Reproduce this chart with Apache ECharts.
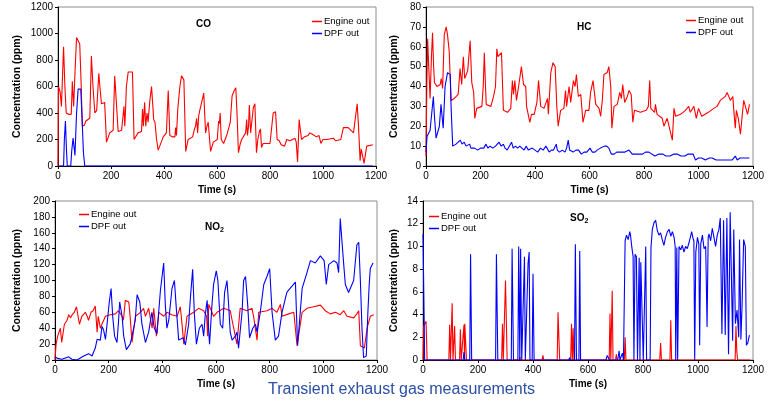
<!DOCTYPE html>
<html><head><meta charset="utf-8">
<script src="https://cdn.jsdelivr.net/npm/echarts@6/dist/echarts.min.js"></script>
<style>html,body{margin:0;padding:0;background:#fff}#c{width:768px;height:403px}</style>
</head><body><div id="c"></div>
<script>
const timeTicks = [0, 200, 400, 600, 800, 1000, 1200];
const panelTitles = ['CO', 'HC', 'NO{s|2}', 'SO{s|2}'];
const seriesNames = ['Engine out', 'DPF out'];
const yMax = [1200, 80, 200, 14];
const yStep = [200, 10, 20, 2];

const coEngine = [[0,0],[2,600],[8,560],[13,450],[21,900],[26,600],[31,400],[40,390],[50,390],[54,640],[59,450],[64,700],[70,970],[76,970],[82,920],[86,700],[92,300],[100,310],[105,340],[120,360],[126,830],[132,600],[139,400],[146,420],[150,560],[154,700],[158,600],[164,470],[176,480],[183,180],[190,220],[195,250],[208,270],[214,680],[220,680],[227,260],[240,270],[246,270],[249,450],[252,300],[255,430],[258,600],[265,710],[281,710],[287,200],[302,250],[315,260],[319,430],[322,300],[327,480],[331,300],[336,400],[340,330],[346,480],[353,600],[358,450],[361,350],[366,330],[372,200],[378,120],[384,150],[397,220],[409,250],[416,570],[422,230],[432,220],[441,220],[444,290],[447,230],[452,430],[460,600],[466,680],[475,650],[482,110],[487,160],[491,200],[500,210],[508,220],[515,280],[519,300],[523,360],[527,250],[531,380],[535,420],[541,470],[550,550],[557,250],[562,300],[567,330],[572,200],[576,110],[586,180],[601,200],[606,340],[609,320],[612,400],[616,200],[625,170],[638,240],[645,250],[650,330],[657,530],[665,570],[671,590],[675,420],[681,100],[688,170],[693,200],[708,250],[712,350],[715,230],[719,300],[722,460],[727,250],[737,440],[743,470],[749,100],[754,200],[760,260],[764,280],[768,140],[774,170],[800,170],[806,180],[812,400],[821,410],[827,200],[835,190],[842,160],[848,170],[855,150],[863,200],[875,190],[894,210],[899,180],[904,30],[910,350],[919,200],[930,220],[944,230],[950,250],[960,240],[975,220],[985,230],[992,170],[1000,200],[1015,200],[1039,210],[1048,190],[1055,180],[1067,200],[1077,290],[1095,290],[1115,250],[1122,260],[1129,470],[1134,300],[1140,40],[1144,130],[1150,140],[1155,20],[1165,150],[1188,160]];
const coDPF = [[0,0],[21,0],[24,200],[28,340],[32,120],[35,0],[48,0],[52,120],[57,210],[64,80],[70,400],[76,580],[82,570],[86,580],[92,300],[96,100],[101,0],[1188,0]];

const hcEngine = [[0,5],[3,40],[6,64],[10,50],[15,34],[20,55],[24,67],[28,50],[31,42],[40,40],[46,41],[52,41],[56,44],[61,39],[67,66],[74,70],[79,66],[85,58],[92,33],[104,34],[111,33],[118,36],[125,49],[131,41],[137,55],[142,44],[153,48],[162,63],[168,42],[175,37],[179,24],[186,29],[205,30],[210,40],[214,57],[217,45],[221,31],[238,30],[248,35],[255,40],[260,59],[264,55],[277,57],[284,28],[299,27],[311,29],[317,43],[321,36],[326,43],[332,33],[342,42],[350,50],[358,41],[366,40],[369,30],[381,22],[387,26],[397,26],[407,32],[413,43],[421,30],[433,29],[446,34],[449,26],[458,47],[466,52],[474,50],[480,30],[485,20],[494,28],[506,29],[512,38],[516,30],[525,40],[531,32],[541,43],[547,40],[552,46],[559,35],[568,36],[576,22],[586,28],[598,28],[604,37],[613,43],[623,31],[635,29],[641,25],[647,33],[653,46],[665,47],[671,50],[678,40],[682,19],[690,30],[702,31],[711,37],[717,34],[722,41],[729,32],[739,35],[745,38],[753,36],[759,22],[765,28],[787,27],[808,28],[816,30],[821,43],[825,29],[839,27],[842,31],[848,26],[867,24],[873,20],[885,24],[891,24],[904,13],[910,29],[916,25],[934,26],[952,28],[964,30],[970,27],[983,30],[992,24],[1000,29],[1012,25],[1036,27],[1056,29],[1068,30],[1080,33],[1098,35],[1105,37],[1117,33],[1126,35],[1129,29],[1135,19],[1139,28],[1146,24],[1154,16],[1160,25],[1166,33],[1172,30],[1180,26],[1187,31]];
const hcDPF = [[0,7],[4,15],[10,14],[15,18],[20,25],[27,35],[31,25],[37,14],[43,13],[49,20],[55,31],[63,19],[70,40],[79,47],[89,46],[92,30],[98,10],[110,11],[116,10],[126,13],[132,11],[140,12],[147,10],[153,10],[160,11],[165,9],[172,10],[178,9],[183,10],[190,8],[200,9],[207,10],[212,9],[220,11],[227,9],[235,10],[245,9],[255,10],[262,11],[268,12],[276,10],[284,11],[290,9],[298,8],[305,9],[314,12],[320,9],[328,10],[336,9],[344,10],[352,9],[360,8],[368,10],[375,8],[382,8],[390,9],[400,8],[410,7],[420,9],[430,8],[440,10],[446,11],[452,7],[460,8],[468,8],[474,9],[478,11],[482,8],[490,7],[500,8],[510,7],[516,9],[522,13],[527,8],[540,7],[550,8],[560,8],[570,6],[580,7],[590,7],[602,9],[610,7],[620,7],[628,8],[640,9],[655,10],[663,10],[671,9],[680,6],[690,6],[700,7],[715,7],[730,7],[745,8],[751,8],[757,6],[770,6],[785,6],[795,6],[805,7],[818,7],[825,6],[840,5],[855,6],[870,6],[880,5],[895,5],[910,6],[922,6],[935,5],[950,5],[962,6],[980,6],[989,3],[1000,4],[1012,4],[1025,3],[1040,4],[1050,4],[1065,3],[1080,3],[1095,3],[1110,3],[1123,3],[1135,5],[1142,3],[1152,4],[1165,4],[1175,4],[1187,4]];

const no2Engine = [[0,0],[4,20],[10,30],[20,40],[25,22],[35,45],[45,50],[51,57],[58,53],[64,57],[72,60],[80,67],[85,57],[91,45],[100,55],[113,60],[120,55],[125,50],[134,60],[142,62],[150,68],[157,35],[161,55],[169,40],[175,45],[188,55],[206,57],[225,58],[237,62],[250,55],[255,50],[262,75],[275,73],[280,55],[287,22],[300,55],[318,60],[330,65],[337,55],[349,65],[362,40],[368,65],[378,30],[387,60],[405,55],[417,60],[435,57],[455,55],[467,67],[472,50],[480,20],[492,55],[517,60],[535,65],[554,62],[565,55],[569,30],[573,70],[591,55],[604,60],[629,65],[653,62],[660,50],[678,20],[690,65],[715,62],[734,65],[740,55],[753,25],[759,60],[790,62],[809,65],[827,60],[840,70],[846,55],[871,58],[890,60],[896,58],[902,18],[921,60],[939,65],[964,67],[989,69],[1007,62],[1026,58],[1045,60],[1063,57],[1076,62],[1088,55],[1113,53],[1125,58],[1132,62],[1138,18],[1153,15],[1163,40],[1175,55],[1188,57]];
const no2DPF = [[0,4],[10,2],[26,1],[51,4],[63,1],[82,0],[107,5],[125,8],[138,5],[150,15],[157,26],[169,25],[175,42],[181,38],[188,26],[194,45],[202,72],[209,90],[215,55],[222,30],[231,22],[237,50],[241,73],[250,55],[256,30],[266,13],[280,20],[287,30],[299,50],[306,82],[316,73],[324,45],[337,22],[349,35],[361,60],[370,40],[380,33],[393,88],[405,122],[411,70],[417,40],[424,50],[436,90],[445,100],[451,70],[461,25],[477,28],[486,19],[498,45],[505,80],[513,114],[519,60],[527,20],[538,40],[548,45],[554,30],[560,57],[567,75],[573,35],[576,20],[585,70],[591,95],[601,112],[607,100],[616,45],[625,40],[632,85],[641,100],[647,70],[653,35],[660,25],[672,30],[678,35],[684,15],[697,60],[703,100],[710,105],[718,70],[725,28],[737,40],[747,45],[753,35],[765,60],[778,95],[790,105],[800,115],[809,60],[821,25],[833,30],[846,60],[864,85],[876,90],[896,98],[904,18],[921,90],[939,110],[952,125],[970,122],[989,131],[1003,125],[1011,95],[1020,120],[1039,125],[1051,122],[1057,110],[1063,178],[1076,120],[1082,95],[1094,85],[1113,100],[1125,145],[1132,148],[1138,100],[1144,40],[1150,3],[1160,5],[1166,60],[1171,95],[1175,115],[1185,122]];

const so2Engine = [[0,0],[2,3.0],[6,2.9],[11,3.4],[15,0],[94,0],[97,3.1],[100,0],[103,0],[106,5.0],[109,0],[113,0],[115,3.0],[118,0],[133,0],[136,2.7],[139,0],[146,0],[149,3.1],[151,0],[152,3.2],[155,3.2],[158,0],[286,0],[289,3.2],[292,0],[297,0],[300,7.0],[303,6.9],[306,0],[350,0],[352,0.3],[354,0],[433,0],[436,0.4],[439,0],[488,0],[491,4.2],[494,4.2],[497,0],[537,0],[540,3.2],[543,0],[546,2.8],[549,0],[677,0],[680,4.1],[683,0],[685,0],[688,6.1],[691,0],[700,0],[703,0.5],[706,0],[732,0],[735,2.0],[738,0],[861,0],[864,1.5],[867,0],[898,0],[901,3.5],[904,0],[1135,0],[1138,3.0],[1141,0.8],[1144,0],[1190,0]];
const so2DPF = [[0,11.1],[4,4],[6,0],[146,0],[149,0.7],[152,0],[170,0],[173,9.3],[177,0],[264,0],[267,9.3],[272,0],[321,0],[324,9.8],[329,0],[345,0],[348,10.0],[352,0],[355,9.8],[359,0],[366,0],[369,9.1],[372,0],[379,0],[382,8.5],[386,9.5],[389,0],[397,0],[400,7.6],[404,0],[530,0],[533,0.2],[536,0],[551,0],[554,10.2],[558,0],[567,0],[570,9.6],[573,0],[665,0],[670,0.4],[674,0.4],[678,0],[708,0],[713,0.8],[716,0],[722,0],[725,0.6],[729,0],[732,0],[735,10.5],[740,11.0],[746,10.6],[752,11.3],[755,10.9],[759,10.0],[764,9.1],[767,0],[771,9.3],[776,9.1],[780,0],[786,9.0],[789,0],[792,8.6],[798,8.5],[801,0],[810,10.0],[813,0],[826,0],[829,9.9],[834,11.5],[840,12.1],[846,12.3],[852,11.4],[858,11.0],[864,11.2],[870,10.6],[876,10.1],[882,10.8],[889,11.3],[895,11.5],[901,10.9],[907,11.3],[913,10.8],[917,10.0],[919,0],[923,9.9],[926,0],[931,10.0],[937,9.7],[943,10.1],[949,9.5],[955,10.0],[961,9.8],[967,10.3],[972,10.8],[977,11.3],[982,10.7],[985,10.5],[988,0],[992,9.5],[998,10.8],[1003,10.2],[1006,1.3],[1010,10.2],[1016,11.0],[1022,9.8],[1028,10.0],[1033,2.9],[1037,10.8],[1040,11.1],[1046,10.5],[1052,11.6],[1058,10.8],[1064,10.0],[1070,11.0],[1076,11.5],[1081,12.5],[1087,2.3],[1093,12.3],[1099,2.2],[1105,12.5],[1111,0.5],[1117,13.0],[1121,13.0],[1126,1.7],[1130,11.5],[1136,3.2],[1142,4.4],[1148,2.0],[1151,10.6],[1156,1.8],[1160,4.6],[1166,10.6],[1172,10.0],[1176,1.3],[1181,1.5],[1187,2.2]];

const engineData = [coEngine, hcEngine, no2Engine, so2Engine];
const dpfData = [coDPF, hcDPF, no2DPF, so2DPF];

const FONT = 'Liberation Sans, Arial, sans-serif';
const grids = [
  {left: 58, top: 7, width: 318, height: 159},
  {left: 426, top: 7, width: 327, height: 159},
  {left: 55, top: 201, width: 322, height: 159},
  {left: 423, top: 201, width: 330, height: 159}
];
const yNameGap = [35, 26, 32, 23];
const legendPos = [[312, 16], [686, 15], [79, 209], [429, 211]];
const titlePos = [[206, 26], [587, 29], [215, 229], [580, 220]];
const plain = v => String(v);

const chart = echarts.init(document.getElementById('c'), null, {renderer: 'canvas'});
const option = {
  animation: false,
  backgroundColor: '#fff',
  grid: grids.map(g => Object.assign({show: true, borderColor: '#8c8c8c', borderWidth: 1, containLabel: false}, g)),
  xAxis: grids.map((g, i) => ({
    type: 'value', gridIndex: i, min: timeTicks[0], max: timeTicks[timeTicks.length - 1], interval: 200,
    name: 'Time (s)', nameLocation: 'middle', nameGap: 19,
    nameTextStyle: {fontFamily: FONT, fontSize: 10, fontWeight: 'bold', color: '#000'},
    axisLine: {onZero: false, lineStyle: {color: '#000', width: 1}},
    axisTick: {show: true, length: 3, lineStyle: {color: '#000'}},
    axisLabel: {fontFamily: FONT, fontSize: 10, color: '#000', margin: 5, formatter: plain},
    splitLine: {show: false}
  })),
  yAxis: grids.map((g, i) => ({
    type: 'value', gridIndex: i, min: 0, max: yMax[i], interval: yStep[i],
    name: 'Concentration (ppm)', nameLocation: 'middle', nameGap: yNameGap[i],
    nameTextStyle: {fontFamily: FONT, fontSize: 10.5, fontWeight: 'bold', color: '#000'},
    axisLine: {show: true, onZero: false, lineStyle: {color: '#000', width: 1}},
    axisTick: {show: true, length: 3, lineStyle: {color: '#000'}},
    axisLabel: {fontFamily: FONT, fontSize: 10, color: '#000', margin: 5, formatter: plain},
    splitLine: {show: false}
  })),
  legend: legendPos.map(p => ({
    left: p[0], top: p[1], orient: 'vertical', itemGap: 1, itemWidth: 10, itemHeight: 1.5,
    icon: 'rect', padding: 0, data: seriesNames, selectedMode: false,
    textStyle: {fontFamily: FONT, fontSize: 9.5, color: '#000', padding: [0, 0, 0, -3], lineHeight: 11}
  })),
  series: [],
  graphic: []
};
for (let i = 0; i < 4; i++) {
  option.series.push({
    name: seriesNames[0], type: 'line', xAxisIndex: i, yAxisIndex: i, data: engineData[i],
    symbol: 'none', color: '#ff0000', lineStyle: {color: '#ff0000', width: 1.1}, z: 2
  });
  option.series.push({
    name: seriesNames[1], type: 'line', xAxisIndex: i, yAxisIndex: i, data: dpfData[i],
    symbol: 'none', color: '#0000ff', lineStyle: {color: '#0000ff', width: 1.1}, z: 3
  });
  option.graphic.push({
    type: 'text', left: titlePos[i][0] - 10, top: titlePos[i][1] - 7, z: 10,
    style: {
      text: panelTitles[i], fill: '#000',
      font: 'bold 10px ' + FONT,
      rich: {s: {fontSize: 7, fontWeight: 'bold', fontFamily: FONT, verticalAlign: 'bottom', padding: [6, 0, 0, 0]}}
    }
  });
}
option.graphic.push({
  type: 'text', left: 268, top: 382, z: 10,
  style: {text: 'Transient exhaust gas measurements', fill: '#2b4fa6', font: '16px ' + FONT}
});
chart.setOption(option);
</script>
</body></html>
